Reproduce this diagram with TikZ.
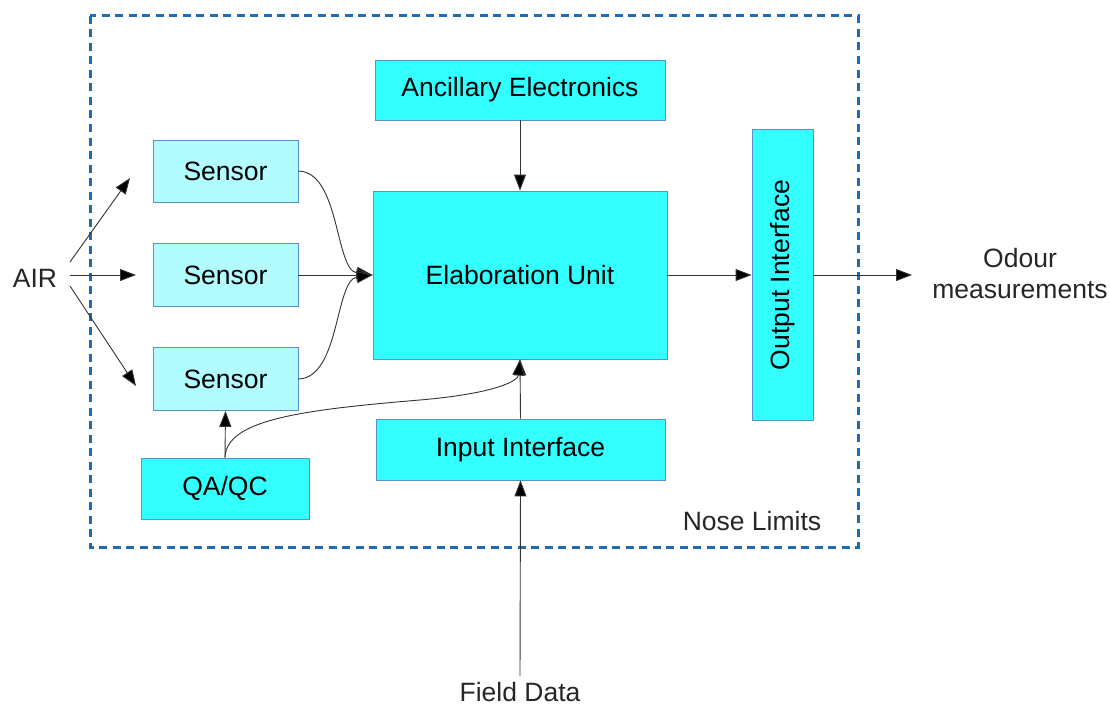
\documentclass[tikz,border=0pt]{standalone}
\usepackage{fontspec}
\setmainfont{Liberation Sans}
\usetikzlibrary{arrows.meta}
\definecolor{cyanbox}{HTML}{33FFFF}
\definecolor{lightbox}{HTML}{B0FCFF}
\definecolor{boxline}{HTML}{5A8FD0}
\definecolor{frameblue}{HTML}{1C6DB3}
\definecolor{wire}{HTML}{333333}
\tikzset{
  unit/.style={draw=boxline, line width=0.8pt, fill=cyanbox, inner sep=0pt, text=black, font=\fontsize{26.5}{31}\selectfont},
  sensorbox/.style={unit, fill=lightbox},
  lbl/.style={font=\fontsize{26.5}{31}\selectfont, text=black!85, inner sep=0pt, align=center},
  conn/.style={draw=wire, line width=0.9pt, -{Triangle[length=16pt,width=12pt,fill=black]}},
}
\begin{document}
\begin{tikzpicture}[x=1pt,y=-1pt]
\useasboundingbox (0,0) rectangle (1110,706);
% frame
\draw[frameblue, line width=3pt, dash pattern=on 8pt off 5.5pt] (90,16) rectangle (858,547);
% boxes
\node[unit, minimum width=290pt, minimum height=60pt] (anc) at (520,90) {Ancillary Electronics};
\node[unit, minimum width=294pt, minimum height=168pt] (elab) at (520,275) {Elaboration Unit};
\node[unit, minimum width=61pt, minimum height=291pt] (out) at (782.5,275) {\rotatebox{90}{Output Interface}};
\node[sensorbox, minimum width=145pt, minimum height=62pt] (s1) at (225.5,171) {Sensor};
\node[sensorbox, minimum width=145pt, minimum height=63pt] (s2) at (225.5,275) {Sensor};
\node[sensorbox, minimum width=145pt, minimum height=63pt] (s3) at (225.5,379) {Sensor};
\node[unit, minimum width=168pt, minimum height=61pt] (qa) at (225,488.5) {QA/QC};
\node[unit, minimum width=289pt, minimum height=61pt] (inp) at (520.5,449.5) {Input Interface};
% labels
\node[lbl] (air) at (35,278) {AIR};
\node[lbl] (odour) at (1020,274) {Odour\\measurements};
\node[lbl] (nose) at (752,521) {Nose Limits};
\node[lbl] (field) at (520,692) {Field Data};
% free ends
\coordinate (a1) at (130,178);
\coordinate (a2) at (136,275);
\coordinate (a3) at (136,386);
\coordinate (o1) at (912,275);
\coordinate (fd) at (520,676);
% AIR arrows
\draw[conn] (70,262) -- (a1);
\draw[conn] (70,275) -- (a2);
\draw[conn] (70,286) -- (a3);
% sensors to elaboration
\draw[conn] (s1.east) .. controls (340,172) and (335,270) .. (elab.west);
\draw[conn] (s2.east) -- (elab.west);
\draw[conn] (s3.east) .. controls (340,378) and (335,280) .. (elab.west);
% ancillary, input, output
\draw[conn] (anc.south) -- (elab.north);
\draw[conn] (inp.north) -- (elab.south);
\draw[conn] (elab.east) -- (out.west);
\draw[conn] (out.east) -- (o1);
\draw[conn] (fd) -- (inp.south);
% QA/QC
\draw[conn] (qa.north) -- (s3.south);
\draw[conn] (qa.north) .. controls (226,420) and (300,410) .. (420,400) .. controls (500,393) and (518,380) .. (elab.south);
\end{tikzpicture}
\end{document}
